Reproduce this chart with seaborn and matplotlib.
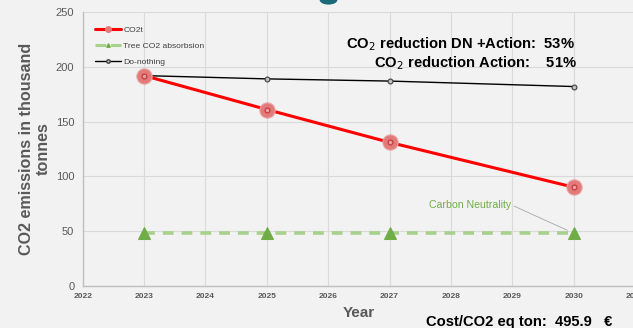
import matplotlib
matplotlib.use("Agg")
import matplotlib.pyplot as plt
import matplotlib.patches as mpatches
from matplotlib.lines import Line2D
import seaborn as sns
import pandas as pd

years = [2023, 2025, 2027, 2030]
co2t = [192, 161, 131, 90]
tree_absorption = [48, 48, 48, 48]
do_nothing = [192, 189, 187, 182]
series_names = ["CO2t", "Tree CO2 absorbsion", "Do-nothing"]
x_ticks = list(range(2022, 2032))
y_ticks = [0, 50, 100, 150, 200, 250]
reduction_dn_action = 53
reduction_action = 51
cost_per_ton = 495.9

sns.set_theme(style="whitegrid")
plt.rcParams["font.family"] = ["Liberation Sans", "DejaVu Sans"]

bg = "#f2f2f2"
fig = plt.figure(figsize=(6.33, 3.28), dpi=100, facecolor=bg)
ax = fig.add_axes([0.1306, 0.129, 0.8726, 0.834])
ax.set_facecolor(bg)

df = pd.DataFrame({"Year": years, series_names[0]: co2t,
                   series_names[1]: tree_absorption, series_names[2]: do_nothing})

green_line = "#a9d18e"
green_mark = "#70ad47"

# Tree absorption (dashed green with triangles)
sns.lineplot(data=df, x="Year", y=series_names[1], ax=ax, color=green_line,
             linewidth=2.6, linestyle=(0, (3.0, 2.2)), marker="^",
             markersize=9, markerfacecolor=green_mark, markeredgecolor=green_mark,
             legend=False, zorder=3)
# Do-nothing (thin black)
sns.lineplot(data=df, x="Year", y=series_names[2], ax=ax, color="black",
             linewidth=1.0, marker="o", markersize=3.5, markerfacecolor="#bfbfbf",
             markeredgecolor="#404040", markeredgewidth=0.8,
             legend=False, zorder=4)
# CO2t (red line with soft halo markers)
sns.lineplot(data=df, x="Year", y=series_names[0], ax=ax, color="#ff0000",
             linewidth=2.2, marker="o", markersize=11, markerfacecolor="#e27a7a",
             markeredgecolor="#eaa5a5", markeredgewidth=0.8,
             legend=False, zorder=5)
ax.scatter(df["Year"], df[series_names[0]], s=12, facecolor="#e9a0a0",
           edgecolor="#c43c3c", linewidth=0.9, zorder=6)

ax.set_xlim(2022, 2031)
ax.set_ylim(0, 250)
ax.set_xticks(x_ticks)
ax.set_yticks(y_ticks)
ax.tick_params(axis="x", labelsize=6, colors="#595959", pad=5, length=0)
ax.tick_params(axis="y", labelsize=8, colors="#595959", pad=6, length=0)
for lbl in ax.get_xticklabels():
    lbl.set_fontweight("bold")
ax.grid(True, color="#dadada", linewidth=0.8)
for side in ["top", "right"]:
    ax.spines[side].set_visible(False)
for side in ["left", "bottom"]:
    ax.spines[side].set_color("#bfbfbf")
    ax.spines[side].set_linewidth(1.0)

ax.set_xlabel("Year", fontsize=11, fontweight="bold", color="#595959")
ax.xaxis.set_label_coords(0.5, -0.075)
ax.set_ylabel("CO2 emissions in thousand\ntonnes", fontsize=11.6, fontweight="bold",
              color="#595959", linespacing=1.15)
ax.yaxis.set_label_coords(-0.057, 0.5)

handles = [
    Line2D([], [], color="#ff0000", linewidth=2.2, marker="o", markersize=4,
           markerfacecolor="#e27a7a", markeredgecolor="#e27a7a"),
    Line2D([], [], color=green_line, linewidth=2.2, linestyle=(0, (3.5, 1.6)),
           marker="^", markersize=2.5, markerfacecolor=green_mark,
           markeredgecolor=green_mark),
    Line2D([], [], color="black", linewidth=1.0, marker="o", markersize=2.5,
           markerfacecolor="#bfbfbf", markeredgecolor="#404040"),
]
leg = ax.legend(handles, series_names, loc="upper left",
                bbox_to_anchor=(0.012, 0.971), frameon=False, fontsize=6.1,
                handlelength=3.1, handletextpad=0.2, labelspacing=0.98,
                borderaxespad=0.3)
for t in leg.get_texts():
    t.set_color("#404040")

fig.text(0.908, 0.866, f"CO$_2$ reduction DN +Action:  {reduction_dn_action}%",
         ha="right", va="center", fontsize=10.6, fontweight="bold", color="black")
fig.text(0.911, 0.808, f"CO$_2$ reduction Action:    {reduction_action}%",
         ha="right", va="center", fontsize=10.6, fontweight="bold", color="black")

ax.annotate("Carbon Neutrality", xy=(2030, tree_absorption[-1]),
            xytext=(2028.31, 74), textcoords="data", ha="center", va="center",
            fontsize=7.6, color=green_mark,
            arrowprops=dict(arrowstyle="-", color="#a6a6a6", linewidth=0.6,
                            shrinkA=0, shrinkB=5, relpos=(1.0, 0.5)))

fig.text(0.968, 0.018, f"Cost/CO2 eq ton:  {cost_per_ton}   €", ha="right",
         va="center", fontsize=10.6, fontweight="bold", color="black")

fig.patches.append(mpatches.Circle((0.519, 1.0), 0.014, transform=fig.transFigure,
                                   facecolor="#1b6a78", edgecolor="none"))

fig.savefig("out.png", dpi=100, facecolor=bg)
